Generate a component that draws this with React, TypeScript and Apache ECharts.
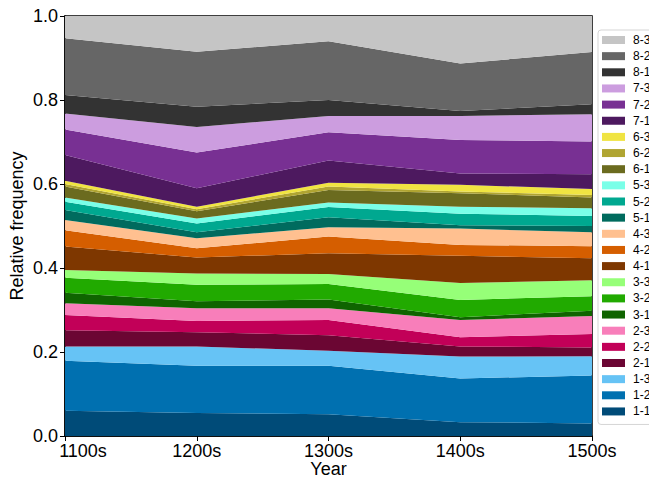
import React, { useEffect, useRef } from "react";
import * as echarts from "echarts";

const years = ["1100s", "1200s", "1300s", "1400s", "1500s"];
const yTicks = [0, 0.2, 0.4, 0.6, 0.8, 1.0];

const names = ["1-1", "1-2", "1-3", "2-1", "2-2", "2-3", "3-1", "3-2", "3-3", "4-1", "4-2", "4-3", "5-1", "5-2", "5-3", "6-1", "6-2", "6-3", "7-1", "7-2", "7-3", "8-1", "8-2", "8-3"];

const colors = ["#004b78", "#0070b0", "#66c3f5", "#6b0633", "#c20058", "#f87eba", "#0f6400", "#21aa00", "#96ff78", "#7e3700", "#d55e00", "#ffc090", "#006b5e", "#00a890", "#7affe8", "#6b6b1f", "#b0a532", "#f0e442", "#4d195f", "#783093", "#cc9ddf", "#333333", "#666666", "#c5c5c5"];

const v1100 = [0.060, 0.119, 0.034, 0.039, 0.036, 0.028, 0.025, 0.036, 0.018, 0.056, 0.039, 0.024, 0.024, 0.020, 0.010, 0.026, 0.006, 0.008, 0.061, 0.061, 0.038, 0.044, 0.135, 0.053];
const v1200 = [0.055, 0.112, 0.046, 0.034, 0.027, 0.030, 0.017, 0.039, 0.027, 0.038, 0.022, 0.024, 0.014, 0.021, 0.012, 0.017, 0.005, 0.006, 0.044, 0.085, 0.061, 0.048, 0.131, 0.085];
const v1300 = [0.052, 0.115, 0.036, 0.037, 0.036, 0.028, 0.021, 0.037, 0.024, 0.049, 0.040, 0.022, 0.024, 0.024, 0.011, 0.030, 0.008, 0.009, 0.053, 0.067, 0.039, 0.038, 0.140, 0.060];
const v1400 = [0.033, 0.104, 0.052, 0.024, 0.022, 0.041, 0.007, 0.041, 0.040, 0.065, 0.026, 0.039, 0.008, 0.027, 0.017, 0.032, 0.004, 0.016, 0.027, 0.080, 0.057, 0.012, 0.113, 0.113];
const v1500 = [0.030, 0.114, 0.046, 0.021, 0.032, 0.043, 0.012, 0.035, 0.038, 0.052, 0.029, 0.033, 0.015, 0.024, 0.018, 0.026, 0.006, 0.014, 0.035, 0.078, 0.065, 0.024, 0.124, 0.086];

const byYear = [v1100, v1200, v1300, v1400, v1500];

export default function App() {
  const ref = useRef<HTMLDivElement>(null);
  useEffect(() => {
    if (!ref.current) return;
    const chart = echarts.init(ref.current, null, { renderer: "svg" });
    const font = "Liberation Sans, Arial, sans-serif";
    const series = names.map((n, i) => ({
      name: n,
      type: "line",
      stack: "total",
      data: byYear.map((arr) => arr[i]),
      showSymbol: false,
      symbol: "none",
      lineStyle: { width: 0 },
      areaStyle: { color: colors[i], opacity: 1 },
      itemStyle: { color: colors[i] },
    }));
    const xData = years.map((y, i) =>
      i === 0 ? { value: y, textStyle: { padding: [0, 0, 0, 36] } } : y
    );
    chart.setOption({
      animation: false,
      backgroundColor: "#ffffff",
      grid: {
        left: 65,
        right: 57,
        top: 16,
        bottom: 42,
        containLabel: false,
        outerBoundsMode: "none",
        show: true,
        borderColor: "#000",
        borderWidth: 1.5,
        backgroundColor: "transparent",
      },
      legend: {
        data: names.slice().reverse(),
        orient: "vertical",
        left: 598,
        top: 30,
        itemWidth: 23,
        itemHeight: 8,
        itemGap: 4.15,
        icon: "rect",
        padding: [4, 30, 7, 4],
        borderColor: "#d5d5d5",
        borderWidth: 1,
        borderRadius: 3,
        backgroundColor: "#fff",
        textStyle: { fontFamily: font, fontSize: 12, lineHeight: 12, color: "#000", padding: [0, 0, 0, 3] },
      },
      xAxis: {
        type: "category",
        data: xData,
        boundaryGap: false,
        name: "Year",
        nameLocation: "middle",
        nameGap: 25,
        nameMoveOverlap: false,
        nameTextStyle: { fontFamily: font, fontSize: 18, lineHeight: 16, color: "#000" },
        axisLine: { lineStyle: { color: "#000", width: 1.5 } },
        axisTick: { show: true, length: 5, lineStyle: { color: "#000" }, alignWithLabel: true },
        axisLabel: { fontFamily: font, fontSize: 18, lineHeight: 16, color: "#000", margin: 7 },
        splitLine: { show: false },
      },
      yAxis: {
        type: "value",
        min: 0,
        max: 1,
        interval: 0.2,
        name: "Relative frequency",
        nameLocation: "middle",
        nameGap: 39,
        nameMoveOverlap: false,
        nameTextStyle: { fontFamily: font, fontSize: 18, color: "#000" },
        axisLine: { show: true, lineStyle: { color: "#000", width: 1.5 } },
        axisTick: { show: true, length: 5, lineStyle: { color: "#000" } },
        axisLabel: {
          fontFamily: font,
          fontSize: 18,
          color: "#000",
          margin: 7,
          formatter: (v: number) => (yTicks.some((t) => Math.abs(t - v) < 1e-9) ? v.toFixed(1) : ""),
        },
        splitLine: { show: false },
      },
      series,
    });
    return () => chart.dispose();
  }, []);
  return (
    <div
      ref={ref}
      style={{ position: "absolute", left: 0, top: 0, width: 649, height: 478 }}
    />
  );
}
